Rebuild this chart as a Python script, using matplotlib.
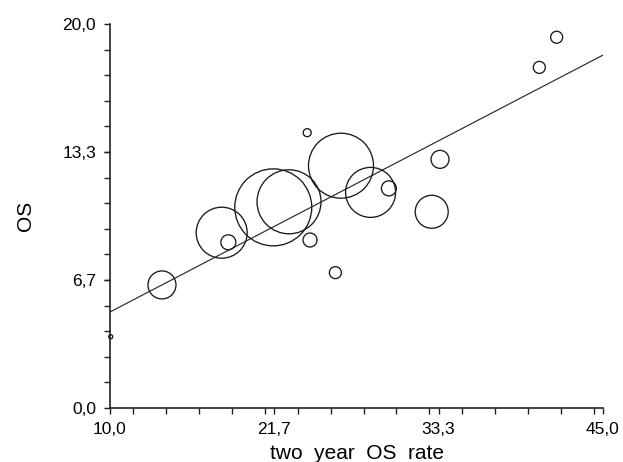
import matplotlib
matplotlib.use("Agg")
import matplotlib.pyplot as plt
from matplotlib.ticker import FixedLocator, MultipleLocator
import numpy as np

# two year OS rate vs OS, bubble size = study weight
os_rate = [10.05, 13.69, 17.93, 18.40, 21.59, 22.71, 24.2, 24.0,
           26.4, 26.0, 28.5, 29.8, 32.84, 33.43, 40.48, 41.71]
os_months = [3.71, 6.41, 9.13, 8.63, 10.45, 10.74, 8.75, 14.34,
             12.62, 7.05, 11.23, 11.44, 10.22, 12.95, 17.74, 19.31]
weight = [2, 14, 25.5, 7.5, 38.5, 32, 7, 4,
          32.5, 6, 25, 7.5, 16.5, 9, 6, 6]

# regression line ends
fit_x = [10, 45]
fit_y = [5.0, 18.38]

xticks = [10, 21.667, 33.333, 45]
xlabels = ['10,0', '21,7', '33,3', '45,0']
yticks = [0, 6.667, 13.333, 20]
ylabels = ['0,0', '6,7', '13,3', '20,0']

plt.rcParams['font.family'] = ['Liberation Sans', 'DejaVu Sans']

fig = plt.figure(figsize=(6.23, 4.62), dpi=100)
ax = fig.add_axes([110 / 623, 54 / 462, 493 / 623, 384 / 462])

sizes = (np.array(weight) * 2 * 0.72) ** 2
ax.scatter(os_rate, os_months, s=sizes, facecolors='none',
           edgecolors='#1a1a1a', linewidths=0.95, clip_on=False, zorder=3)
ax.plot(fit_x, fit_y, color='#2a2a2a', lw=0.85)

ax.set_xlim(10, 45)
ax.set_ylim(0, 20)
ax.xaxis.set_major_locator(FixedLocator(xticks))
ax.set_xticklabels(xlabels)
ax.yaxis.set_major_locator(FixedLocator(yticks))
ax.set_yticklabels(ylabels)
ax.xaxis.set_minor_locator(MultipleLocator(35 / 15))
ax.yaxis.set_minor_locator(MultipleLocator(20 / 15))

for s in ['top', 'right']:
    ax.spines[s].set_visible(False)
for s in ['left', 'bottom']:
    ax.spines[s].set_linewidth(1.2)
    ax.spines[s].set_color('#222222')

ax.tick_params(which='both', direction='out', length=4, width=1, color='#222222')
ax.tick_params(axis='both', labelsize=12.5, pad=6)

ax.set_xlabel('two  year  OS  rate', fontsize=15)
ax.set_ylabel('OS', fontsize=15)
ax.xaxis.set_label_coords(0.5, -0.095)
ax.yaxis.set_label_coords(-0.152, 0.5)

fig.savefig('out.png', dpi=100)
